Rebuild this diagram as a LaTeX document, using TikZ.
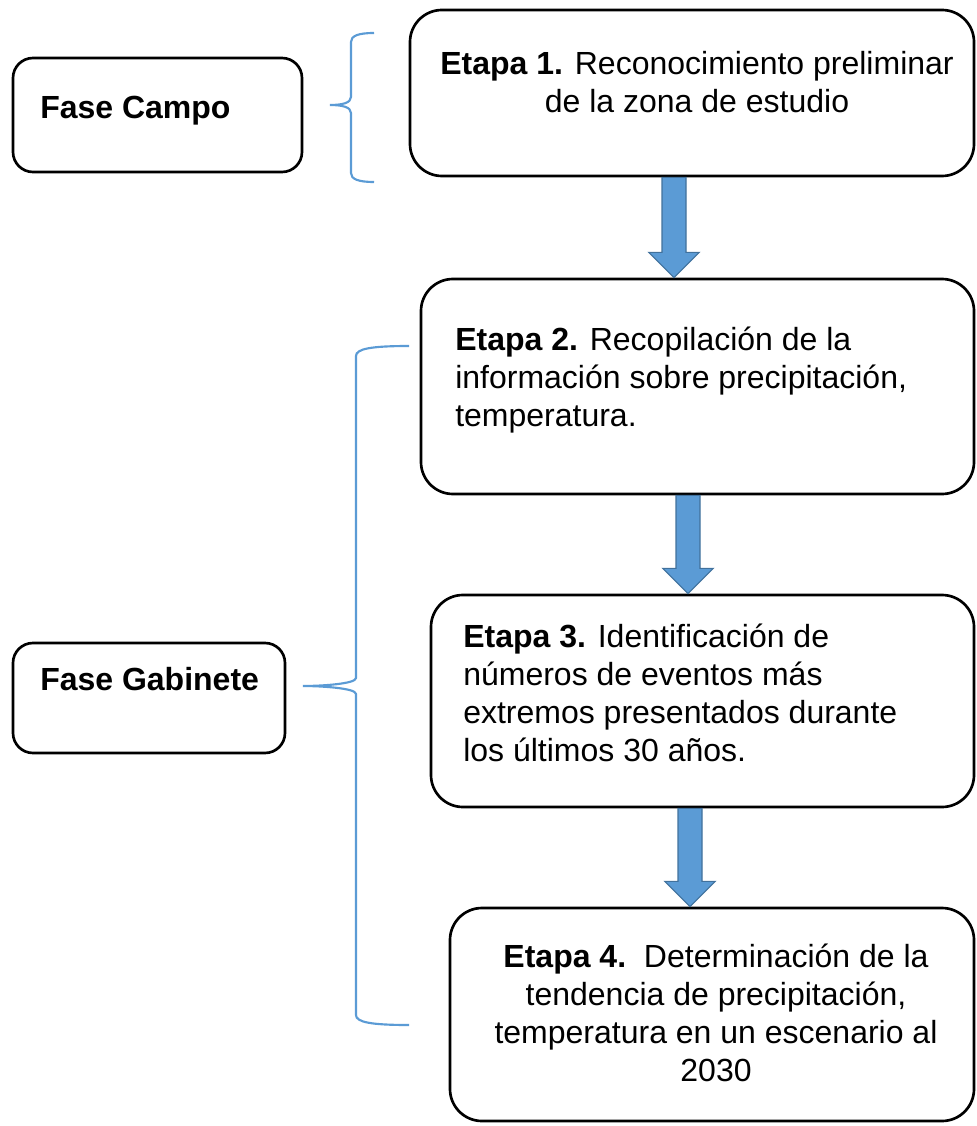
\documentclass[tikz,border=0pt]{standalone}
\usepackage{fontspec}
\setmainfont{Liberation Sans}
\usetikzlibrary{fit,calc}
\definecolor{braceblue}{HTML}{5B9BD5}
\definecolor{arrowfill}{HTML}{5B9BD5}
\definecolor{arrowline}{HTML}{41719C}
\newcommand\myblockarrow[3]{%
  \draw[blockarrow] let \p1=(#1 |- #2.south), \p2=(#1 |- #3.north) in
    (\x1-9pt,\y1) -- (\x1-9pt,\y2+19pt) -- (\x1-19pt,\y2+19pt) -- (\x1,\y2)
    -- (\x1+19pt,\y2+19pt) -- (\x1+9pt,\y2+19pt) -- (\x1+9pt,\y1) -- cycle;}
\begin{document}
\begin{tikzpicture}[x=0.75pt,y=-0.75pt,
  box/.style={draw=black, line width=2pt, rounded corners=24pt, inner sep=0pt},
  phase/.style={draw=black, line width=2pt, rounded corners=15pt, inner sep=0pt},
  txt/.style={inner sep=0pt, font=\fontsize{24}{28.5}\selectfont},
  brace/.style={draw=braceblue, line width=1.6pt},
  blockarrow/.style={fill=arrowfill, draw=arrowline, line width=0.8pt, line join=miter}]
\useasboundingbox (0,0) rectangle (976,1126);

% boxes
\node[phase, fit={(13,58) (302,172)}] (fc) {};
\node[phase, fit={(13,643) (285,753)}] (fg) {};
\node[box, fit={(410,10) (974,176)}] (b1) {};
\node[box, fit={(421,279) (974,494)}] (b2) {};
\node[box, fit={(431,595) (974,807)}] (b3) {};
\node[box, fit={(450,908) (974,1121)}] (b4) {};

% texts
\node[txt, anchor=north west] (tc) at (40,96) {\textbf{Fase Campo}};
\node[txt, anchor=north west] (tg) at (40,667) {\textbf{Fase Gabinete}};
\node[txt, anchor=north, align=center] (t1) at (697,51)
  {\textbf{Etapa 1.} Reconocimiento preliminar\\de la zona de estudio};
\node[txt, anchor=north west, align=left] (t2) at (455,327)
  {\textbf{Etapa 2.} Recopilación de la\\información sobre precipitación,\\temperatura.};
\node[txt, anchor=north west, align=left] (t3) at (463,624)
  {\textbf{Etapa 3.} Identificación de\\números de eventos más\\extremos presentados durante\\los últimos 30 años.};
\node[txt, anchor=north, align=center] (t4) at (716,944)
  {\textbf{Etapa 4.}\ \ Determinación de la\\tendencia de precipitación,\\temperatura en un escenario al\\2030};

% braces
\draw[brace] (374,33) .. controls (358,33) and (351,36) .. (351,42) -- (351,97)
  .. controls (351,103) and (342,105) .. (330,105)
  .. controls (342,105) and (351,107) .. (351,113) -- (351,173)
  .. controls (351,179) and (358,182) .. (374,182);
\draw[brace] (409,346) .. controls (370,346) and (356,349) .. (356,356) -- (356,678)
  .. controls (356,684) and (320,686) .. (303,686)
  .. controls (320,686) and (356,688) .. (356,694) -- (356,1015)
  .. controls (356,1022) and (370,1025) .. (409,1025);

% block arrows
\coordinate (a1) at (674,0);
\coordinate (a2) at (688,0);
\coordinate (a3) at (690,0);
\myblockarrow{a1}{b1}{b2}
\myblockarrow{a2}{b2}{b3}
\myblockarrow{a3}{b3}{b4}
\end{tikzpicture}
\end{document}
